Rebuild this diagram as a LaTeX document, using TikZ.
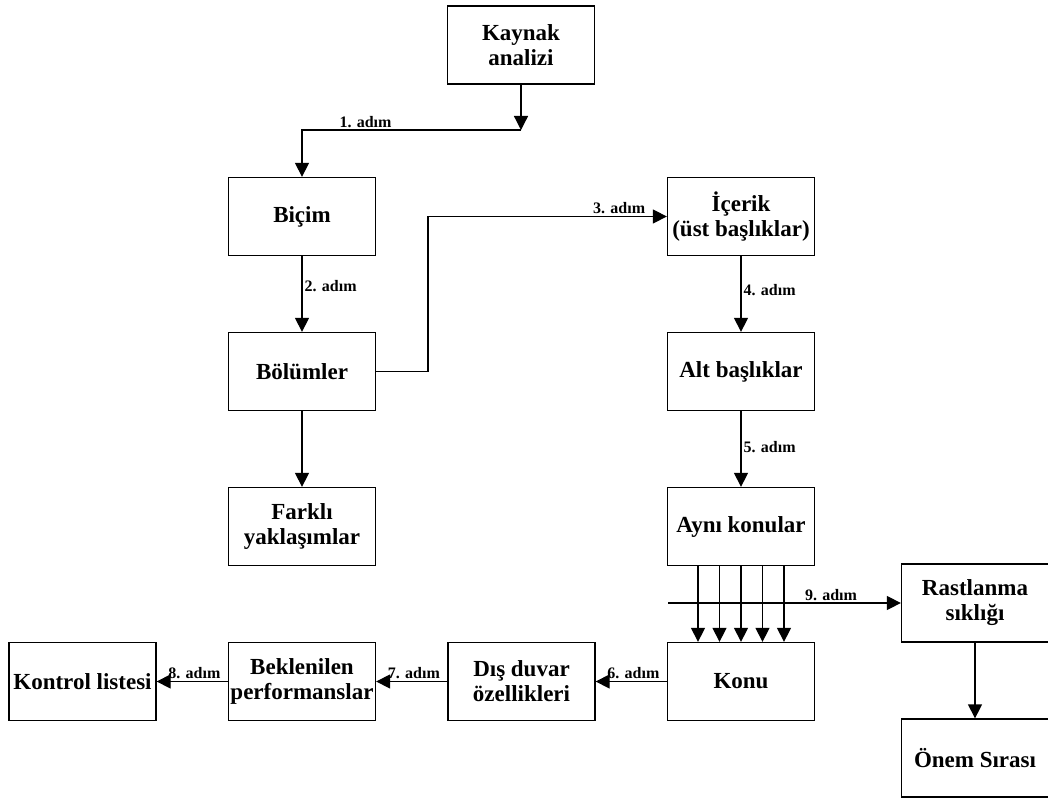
\documentclass[tikz,border=0pt]{standalone}
\usepackage{fontspec}
\setmainfont{Liberation Serif}
\usetikzlibrary{arrows.meta,positioning}

\tikzset{
  box/.style={draw,line width=1.3pt,minimum width=147pt,minimum height=78pt,
    inner sep=0pt,align=center,font=\bfseries\fontsize{23}{25}\selectfont},
  arr/.style={line width=1.3pt,-{Triangle[length=14pt,width=14pt]}},
  lbl/.style={font=\bfseries\fontsize{16}{16}\selectfont,inner sep=2pt}
}

\begin{document}
\begin{tikzpicture}[x=1pt,y=-1pt,node distance={155pt and 219.5pt},on grid]
    \useasboundingbox (0,0) rectangle (1048,799);

    \node[box] (kaynak) at (521,45)          {Kaynak\\analizi};
    \node[box] (bicim)  at (302,216.5)       {Biçim};
    \node[box] (bolum)  [below=of bicim]     {Bölümler};
    \node[box] (farkli) [below=of bolum]     {Farklı\\yaklaşımlar};
    \node[box] (icerik) [right=439pt of bicim] {İçerik\\(üst başlıklar)};
    \node[box] (alt)    [below=of icerik]    {Alt başlıklar};
    \node[box] (ayni)   [below=of alt]       {Aynı konular};
    \node[box] (konu)   [below=of ayni]      {Konu};
    \node[box] (dis)    [left=of konu]       {Dış duvar\\özellikleri};
    \node[box] (bekl)   [left=of dis]        {Beklenilen\\performanslar};
    \node[box] (kontrol) [left=of bekl]      {Kontrol listesi};
    \node[box] (rast)   at (975,603)         {Rastlanma\\sıklığı};
    \node[box] (onem)   [below=of rast]      {Önem Sırası};

    \coordinate (k1) at (521,130);
    \coordinate (k3) at (428,371.5);
    \coordinate (k9) at (668,603);

    \draw[arr] (kaynak) -- (k1);
    \draw[arr] (k1) -| node[lbl,above,pos=0.355] {1. adım} (bicim);
    \draw[arr] (bicim) -- node[lbl,right,pos=0.4] {2. adım} (bolum);
    \draw[line width=1.3pt] (bolum.east) -- (k3);
    \draw[arr] (k3) |- node[lbl,above,pos=0.9] {3. adım} (icerik.west);
    \draw[arr] (icerik) -- node[lbl,right,pos=0.45] {4. adım} (alt);
    \draw[arr] (alt) -- node[lbl,right,pos=0.47] {5. adım} (ayni);
    \draw[arr] (bolum) -- (farkli);
    \foreach \dx in {-43,-21.5,0,21.5,43}
      \draw[arr] ([xshift=\dx pt]ayni.south) -- ([xshift=\dx pt]konu.north);
    \draw[arr] (k9) -- node[lbl,above,pos=0.7] {9. adım} (rast);
    \draw[arr] (rast) -- (onem);
    \draw[arr] (konu) -- node[lbl,above,pos=0.47] {6. adım} (dis);
    \draw[arr] (dis) -- node[lbl,above,pos=0.47] {7. adım} (bekl);
    \draw[arr] (bekl) -- node[lbl,above,pos=0.47] {8. adım} (kontrol);
\end{tikzpicture}
\end{document}
